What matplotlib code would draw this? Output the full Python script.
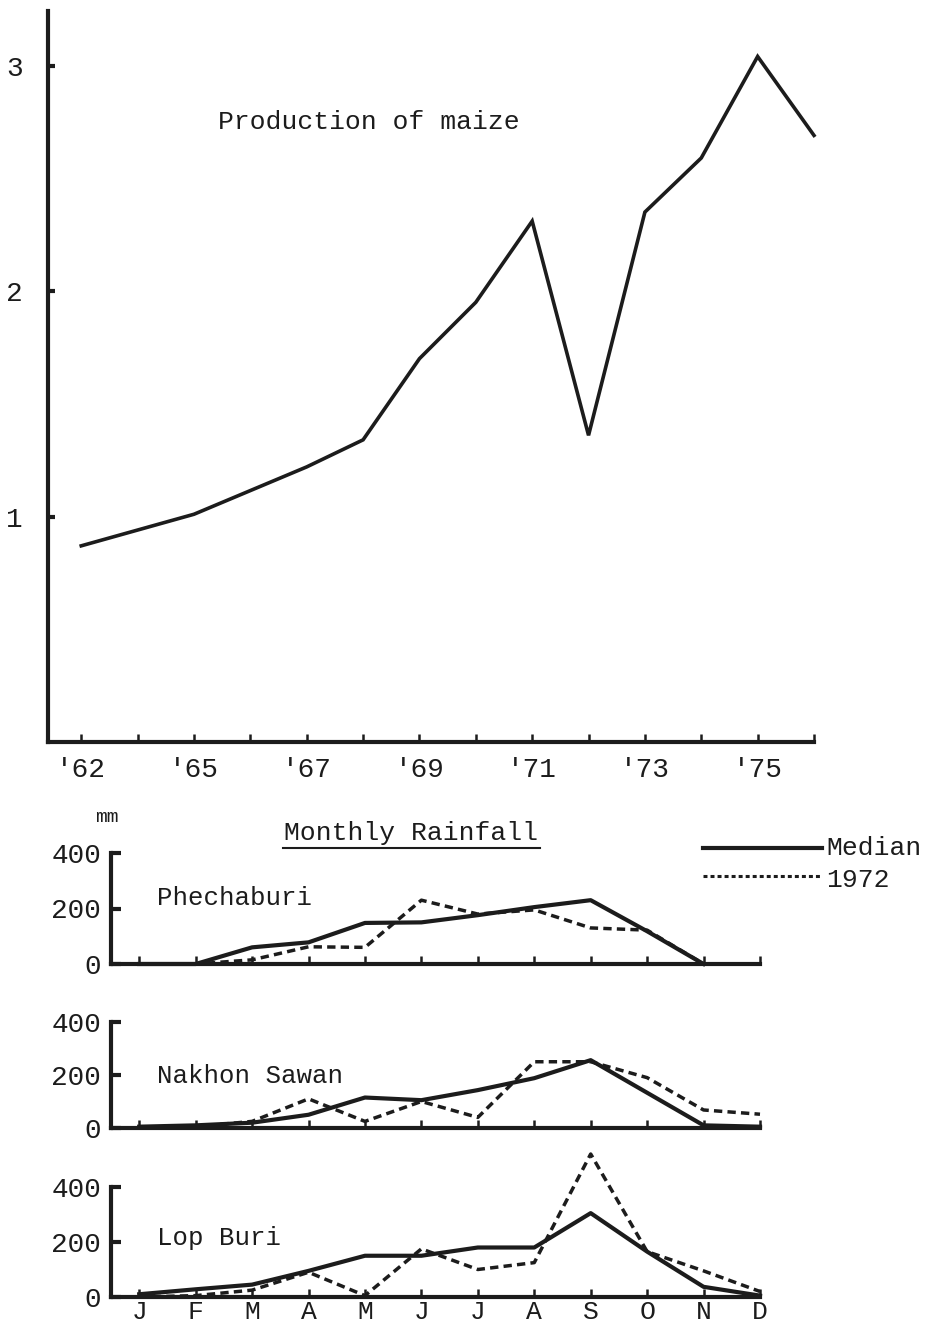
import numpy as np
import matplotlib.pyplot as plt
from matplotlib.lines import Line2D

plt.rcParams['font.family'] = ['Liberation Mono', 'DejaVu Sans Mono']

INK = '#1c1c1c'

# production of maize (the year axis is drawn as it is on the original sheet)
tick_years = [1962, 1964, 1965, 1966, 1967, 1968, 1969, 1970, 1971, 1972, 1973, 1974, 1975, 1976]
year_labels = ["'62", "", "'65", "", "'67", "", "'69", "", "'71", "", "'73", "", "'75", ""]
maize_years = [1962, 1965, 1967, 1968, 1969, 1970, 1971, 1972, 1973, 1974, 1975, 1976]
maize_prod = [0.87, 1.01, 1.22, 1.34, 1.70, 1.95, 2.31, 1.36, 2.35, 2.59, 3.04, 2.69]

# monthly rainfall, mm
months = ['J', 'F', 'M', 'A', 'M', 'J', 'J', 'A', 'S', 'O', 'N', 'D']
nan = np.nan
phe_median = [0, 0, 60, 78, 148, 150, 176, 205, 230, 118, 0, nan]
phe_1972 = [0, 0, 15, 62, 60, 230, 180, 195, 130, 122, 0, nan]
nak_median = [5, 10, 20, 50, 115, 105, 143, 188, 256, 133, 10, 5]
nak_1972 = [0, 5, 25, 110, 25, 100, 40, 250, 250, 190, 68, 52]
lop_median = [10, 28, 45, 95, 150, 150, 180, 180, 305, 165, 37, 5]
lop_1972 = [0, 5, 25, 90, 5, 175, 100, 125, 520, 165, 95, 20]
stations = ['Phechaburi', 'Nakhon Sawan', 'Lop Buri']

W, H = 925, 1330
fig = plt.figure(figsize=(W / 100, H / 100), dpi=100)
fig.patch.set_facecolor('white')


def fx(px):
    return px / W


def fy(py):
    return 1 - py / H


def style_axes(ax):
    for s in ['top', 'right']:
        ax.spines[s].set_visible(False)
    for s in ['left', 'bottom']:
        ax.spines[s].set_linewidth(3)
        ax.spines[s].set_color(INK)
    ax.set_facecolor('none')


# ---- top: production of maize ----
ax = fig.add_axes([fx(48), fy(742), fx(766), 730.6 / H])
style_axes(ax)
xpos = [tick_years.index(y) for y in maize_years]
ax.plot(xpos, maize_prod, color=INK, lw=2.6, solid_joinstyle='miter', clip_on=False)
ax.set_xlim(-0.59, 13)
ax.set_ylim(0, 3.24)
ax.set_xticks(range(len(tick_years)))
ax.set_xticklabels(year_labels, fontsize=20)
ax.set_yticks([1, 2, 3])
ax.set_yticklabels(['1', '2', '3'], fontsize=20)
ax.tick_params(axis='x', direction='in', length=6, width=1.8, pad=11, colors=INK)
ax.tick_params(axis='y', direction='in', length=5, width=3, pad=18, colors=INK)
ax.text(2.42, 2.75, 'Production of maize', fontsize=19, va='center', color=INK)

# ---- bottom: monthly rainfall ----
fig.text(fx(95), fy(818), 'mm', fontsize=14, va='center', color=INK)
fig.text(fx(411), fy(833), 'Monthly Rainfall', fontsize=19, ha='center', va='center', color=INK)
fig.add_artist(Line2D([fx(283), fx(540)], [fy(848), fy(848)], color=INK, lw=1.5))
fig.add_artist(Line2D([fx(703), fx(822)], [fy(848), fy(848)], color=INK, lw=3))
fig.add_artist(Line2D([fx(703), fx(822)], [fy(876), fy(876)], color=INK, lw=2.2,
                      linestyle=(0, (1.3, 1.0))))
fig.text(fx(826), fy(848), 'Median', fontsize=19, va='center', color=INK)
fig.text(fx(826), fy(880), '1972', fontsize=19, va='center', color=INK)

panels = [
    (fy(964), 111, phe_median, phe_1972, 238),
    (fy(1128), 106, nak_median, nak_1972, 196),
    (fy(1297), 110, lop_median, lop_1972, 215),
]
x = np.arange(len(months))
for i, (bottom, hpx, med, y72, ly) in enumerate(panels):
    pax = fig.add_axes([fx(111), bottom, fx(649), hpx / H])
    style_axes(pax)
    pax.plot(x, y72, color=INK, lw=2.5, linestyle=(0, (2.4, 1.5)), clip_on=False)
    pax.plot(x, med, color=INK, lw=3, clip_on=False)
    pax.set_xlim(-0.5, 11)
    pax.set_ylim(0, 400)
    pax.set_yticks([0, 200, 400])
    pax.set_yticklabels(['0', '200', '400'], fontsize=20)
    pax.set_xticks(x)
    if i == 2:
        pax.set_xticklabels(months, fontsize=19)
    else:
        pax.set_xticklabels([])
    pax.tick_params(axis='x', direction='in', length=6, width=1.8, pad=2, colors=INK)
    pax.tick_params(axis='y', direction='in', length=7, width=3, pad=7, colors=INK)
    pax.text(0.32, ly, stations[i], fontsize=18.5, va='center', color=INK)

fig.savefig('out.png', dpi=100, facecolor='white')
